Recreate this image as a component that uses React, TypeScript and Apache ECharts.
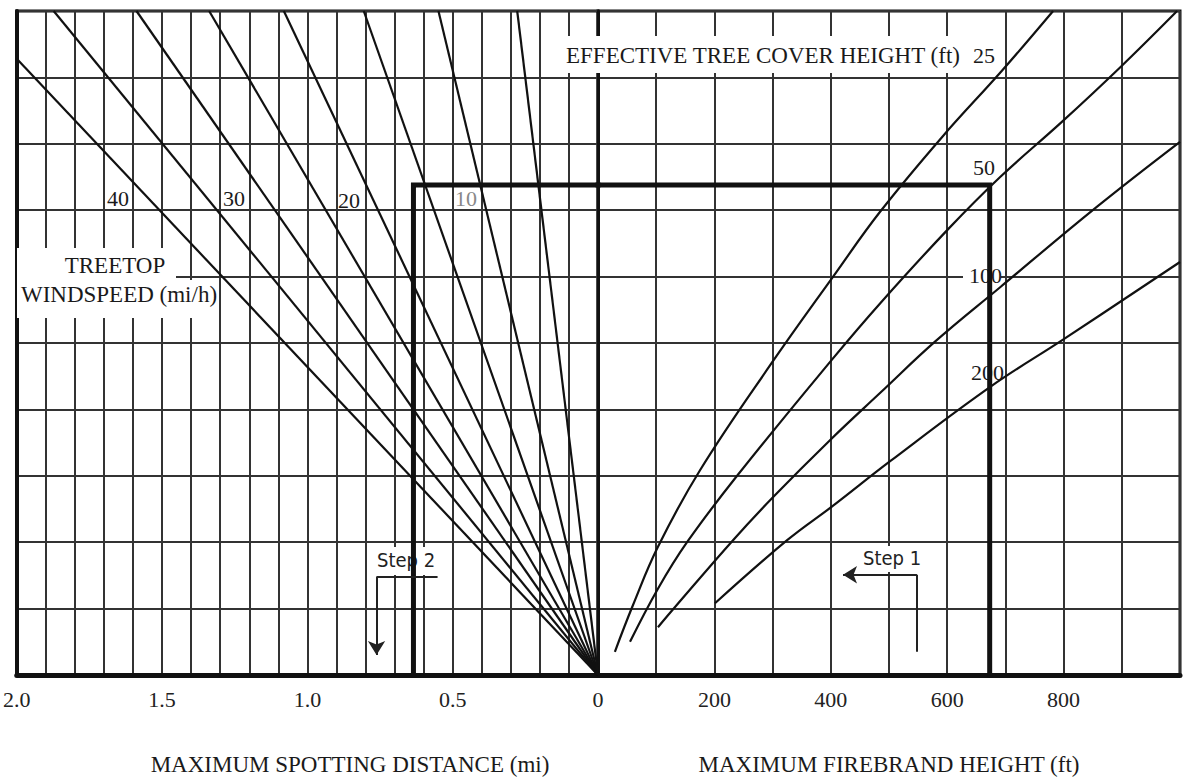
import React, { useEffect, useRef } from "react";
import * as echarts from "echarts";

// ---- Tick labels ----
const leftTickValues = [2, 1.5, 1, 0.5, 0];
const leftTickLabels = ["2.0", "1.5", "1.0", "0.5", "0"];
const rightTickValues = [200, 400, 600, 800];
const rightTickLabels = ["200", "400", "600", "800"];

// ---- Treetop windspeed lines (mi/h): each runs from the origin to its end point ----
const windSpeeds = [40, 35, 30, 25, 20, 15, 10, 5];
const windEndDistance = [2.0, 1.873, 1.588, 1.338, 1.081, 0.806, 0.549, 0.278];
const windEndLevel = [9.28, 10, 10, 10, 10, 10, 10, 10];
const windLabelled = [40, 30, 20, 10];

// ---- Effective tree cover height curves (ft): [firebrand height ft, level] ----
const coverHeights = [25, 50, 100, 200];
const cover25 = [
  [29, 0.35], [60, 1.05], [103, 1.93], [175, 3.08], [297, 4.68], [404, 6.0],
  [485, 6.98], [591, 8.1], [694, 9.1], [782, 10],
];
const cover50 = [
  [55, 0.5], [103, 1.3], [153, 2.0], [239, 3.0], [402, 4.75], [485, 5.6],
  [600, 6.7], [691, 7.5], [797, 8.33], [897, 9.15], [995, 10],
];
const cover100 = [
  [103, 0.72], [132, 1.02], [232, 2.03], [301, 2.68], [399, 3.54], [485, 4.25],
  [579, 5.02], [691, 5.84], [857, 7.05], [1000, 8.03],
];
const cover200 = [
  [201, 1.08], [325, 2.03], [404, 2.55], [502, 3.22], [674, 4.34], [799, 5.05],
  [1000, 6.22],
];
const coverCurves = [cover25, cover50, cover100, cover200];

// ---- Worked example (thick path) ----
const stepFirebrandHeight = 673;
const stepLevel = 7.38;
const stepDistance = 0.635;

// ---- Step annotations (brackets) ----
const step1Bracket = [[548, 0.35], [548, 1.51], [421, 1.51]];
const step2Bracket = [[0.552, 1.48], [0.762, 1.48], [0.762, 0.3]];

const SERIF = '"Liberation Serif", "Times New Roman", serif';
const NARROW = '"Liberation Sans Narrow", "Arial Narrow", "DejaVu Sans Condensed", "Liberation Sans", sans-serif';
const INK = "#1a1a1a";
const GRID = "#333";

function fmt(values: number[], labels: string[]) {
  return (v: number) => {
    const i = values.findIndex((t) => Math.abs(t - v) < 1e-6);
    return i >= 0 ? labels[i] : "";
  };
}

function text(t: string, x: number, y: number, size: number, align = "left", font = SERIF, fill = INK) {
  return {
    type: "text",
    z: 1.5,
    style: {
      text: t, x, y, fill,
      fontSize: size, fontFamily: font,
      align, textAlign: align,
      verticalAlign: "middle", textVerticalAlign: "middle",
    },
  };
}

function box(x: number, y: number, w: number, h: number) {
  return { type: "rect", z: 1, shape: { x, y, width: w, height: h }, style: { fill: "#fff" } };
}

function bracketMarkLine(pts: number[][]) {
  return {
    silent: true,
    label: { show: false },
    emphasis: { disabled: true },
    lineStyle: { type: "solid", color: "#222", width: 2 },
    symbolSize: [13, 14],
    data: [
      [{ coord: pts[0], symbol: "none" }, { coord: pts[1], symbol: "none" }],
      [{ coord: pts[1], symbol: "none" }, { coord: pts[2], symbol: "arrow" }],
    ],
  };
}

export default function App() {
  const ref = useRef<HTMLDivElement>(null);
  useEffect(() => {
    if (!ref.current) return;
    const chart = echarts.init(ref.current, null, { renderer: "svg" });
    const splitLine = { show: true, lineStyle: { color: GRID, width: 2 } };
    const axisLabelBase = { margin: 13, fontFamily: SERIF, fontSize: 22, color: "#222", showMinLabel: true, showMaxLabel: true, interval: 0 };

    const windSeries = windSpeeds.map((w, i) => ({
      type: "line",
      name: `wind ${w}`,
      xAxisIndex: 0,
      yAxisIndex: 0,
      symbol: "none",
      silent: true,
      lineStyle: { color: "#111", width: 2.2 },
      data: [[0, 0], [windEndDistance[i], windEndLevel[i]]],
    }));

    const coverSeries = coverCurves.map((c, i) => ({
      type: "line",
      name: `cover ${coverHeights[i]}`,
      xAxisIndex: 1,
      yAxisIndex: 1,
      symbol: "none",
      silent: true,
      smooth: 0.4,
      lineStyle: { color: "#111", width: 2.2 },
      data: c,
    }));

    const option: any = {
      animation: false,
      backgroundColor: "#fff",
      grid: [
        { left: 15, top: 11, width: 583, height: 664, show: true, borderColor: "#111", borderWidth: 3 },
        { left: 598, top: 11, width: 582, height: 664, show: true, borderColor: "#111", borderWidth: 3 },
      ],
      xAxis: [
        {
          type: "value", gridIndex: 0, min: 0, max: 2, interval: 0.1, inverse: true,
          axisLine: { show: true, onZero: false, lineStyle: { color: "#111", width: 5 } },
          axisTick: { show: false },
          splitLine,
          axisLabel: { ...axisLabelBase, formatter: fmt(leftTickValues, leftTickLabels) },
        },
        {
          type: "value", gridIndex: 1, min: 0, max: 1000, interval: 100,
          axisLine: { show: true, onZero: false, lineStyle: { color: "#111", width: 5 } },
          axisTick: { show: false },
          splitLine,
          axisLabel: { ...axisLabelBase, formatter: fmt(rightTickValues, rightTickLabels) },
        },
      ],
      yAxis: [
        {
          type: "value", gridIndex: 0, min: 0, max: 10, interval: 1,
          axisLine: { show: true, onZero: false, lineStyle: { color: "#111", width: 4 } },
          axisTick: { show: false }, axisLabel: { show: false }, splitLine,
        },
        {
          type: "value", gridIndex: 1, min: 0, max: 10, interval: 1,
          axisLine: { show: true, onZero: false, lineStyle: { color: "#111", width: 3 } },
          axisTick: { show: false }, axisLabel: { show: false }, splitLine,
        },
      ],
      series: [
        ...windSeries,
        ...coverSeries,
        {
          type: "line", name: "example left", xAxisIndex: 0, yAxisIndex: 0,
          symbol: "none", silent: true,
          lineStyle: { color: "#111", width: 5, join: "miter", cap: "square" },
          data: [[stepDistance, 0], [stepDistance, stepLevel], [0, stepLevel]],
          markLine: bracketMarkLine(step2Bracket),
        },
        {
          type: "line", name: "example right", xAxisIndex: 1, yAxisIndex: 1,
          symbol: "none", silent: true,
          lineStyle: { color: "#111", width: 5, join: "miter", cap: "square" },
          data: [[0, stepLevel], [stepFirebrandHeight, stepLevel], [stepFirebrandHeight, 0]],
          markLine: bracketMarkLine(step1Bracket),
        },
      ],
      graphic: [
        box(17, 248, 159, 32),
        box(17, 280, 199, 38),
        box(562, 36, 436, 37),
        box(963, 263, 38, 26),
        box(858, 546, 67, 26),
        box(374, 547, 63, 28),
        text("EFFECTIVE TREE COVER HEIGHT (ft)", 566, 55, 23),
        text(String(coverHeights[0]), 973, 55, 22),
        text(String(coverHeights[1]), 973, 167, 22),
        text(String(coverHeights[2]), 969, 275, 22),
        text(String(coverHeights[3]), 971, 372, 22),
        text(String(windLabelled[0]), 107, 198, 22),
        text(String(windLabelled[1]), 223, 198, 22),
        text(String(windLabelled[2]), 338, 200, 22),
        text(String(windLabelled[3]), 455, 198, 22, "left", SERIF, "#888"),
        text("TREETOP", 115, 265, 23, "center"),
        text("WINDSPEED (mi/h)", 119, 294, 23, "center"),
        text("Step 1", 863, 558, 20, "left", NARROW, "#222"),
        text("Step 2", 377, 560, 20, "left", NARROW, "#222"),
        text("MAXIMUM SPOTTING DISTANCE (mi)", 350, 764, 23, "center"),
        text("MAXIMUM FIREBRAND HEIGHT (ft)", 889, 764, 23, "center"),
      ],
    };
    chart.setOption(option);
    return () => chart.dispose();
  }, []);
  return (
    <div
      ref={ref}
      style={{ position: "fixed", left: 0, top: 0, width: 1183, height: 783, background: "#fff" }}
    />
  );
}
